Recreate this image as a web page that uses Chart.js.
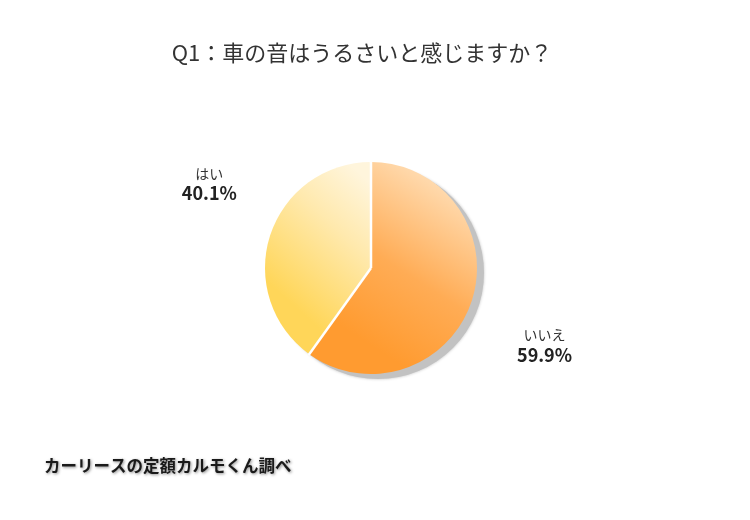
<!DOCTYPE html>
<html lang="ja">
<head>
<meta charset="utf-8">
<script src="https://cdn.jsdelivr.net/npm/chart.js@4"></script>
<style>
    html, body { margin: 0; padding: 0; background: #fff; }
    #wrap { width: 750px; height: 520px; }
</style>
</head>
<body>
<div id="wrap"><canvas id="pieChart" width="750" height="520"></canvas></div>
<script>
// Chart data
const categories = ['いいえ', 'はい'];
const percentValues = [59.9, 40.1];
const percentLabels = ['59.9%', '40.1%'];
const chartTitle = 'Q1：車の音はうるさいと感じますか？';
const sourceNote = 'カーリースの定額カルモくん調べ';

const FONT = '"Noto Sans CJK JP", "Noto Sans", sans-serif';

// label placement tweaks (angle shift in rad, distance as radius factor)
const labelShift = [0.105, 0.17];
const labelDist = [1.79, 1.72];

// Gradient per slice
function sliceGradient(context) {
    const chart = context.chart;
    const area = chart.chartArea;
    if (!area) return '#ffa040';
    const ctx = chart.ctx;
    const cx = (area.left + area.right) / 2;
    const cy = (area.top + area.bottom) / 2;
    const r = Math.min(area.width, area.height) / 2;
    let g;
    if (context.dataIndex === 0) {
        g = ctx.createLinearGradient(cx + r * 0.7, cy - r * 0.8, cx - r * 0.2, cy + r * 0.6);
        g.addColorStop(0, '#ffdcb2');
        g.addColorStop(0.55, '#ffac55');
        g.addColorStop(1, '#ff9b30');
    } else {
        g = ctx.createLinearGradient(cx - r * 0.9, cy + r * 0.2, cx, cy - r * 0.8);
        g.addColorStop(0, '#ffd659');
        g.addColorStop(0.6, '#ffe9ad');
        g.addColorStop(1, '#fff5dc');
    }
    return g;
}

// Drop shadow behind the pie
const shadowPlugin = {
    id: 'pieShadow',
    beforeDatasetsDraw(chart) {
        const arc = chart.getDatasetMeta(0).data[0];
        if (!arc) return;
        const ctx = chart.ctx;
        ctx.save();
        ctx.shadowColor = 'rgba(0,0,0,0.25)';
        ctx.shadowBlur = 3;
        ctx.fillStyle = '#c2c2c2';
        ctx.beginPath();
        ctx.arc(arc.x + 7, arc.y + 5, arc.outerRadius, 0, Math.PI * 2);
        ctx.fill();
        ctx.restore();
    }
};

// White separators between slices
const separatorPlugin = {
    id: 'separators',
    afterDatasetsDraw(chart) {
        const ctx = chart.ctx;
        ctx.save();
        ctx.strokeStyle = '#ffffff';
        ctx.lineWidth = 2.5;
        chart.getDatasetMeta(0).data.forEach(arc => {
            ctx.beginPath();
            ctx.moveTo(arc.x, arc.y);
            ctx.lineTo(arc.x + Math.cos(arc.startAngle) * (arc.outerRadius + 1),
                       arc.y + Math.sin(arc.startAngle) * (arc.outerRadius + 1));
            ctx.stroke();
        });
        ctx.restore();
    }
};

// Title, outside labels and source note
const labelPlugin = {
    id: 'outsideLabels',
    afterDraw(chart) {
        const ctx = chart.ctx;
        ctx.save();
        ctx.textAlign = 'center';
        ctx.textBaseline = 'middle';

        ctx.fillStyle = '#333333';
        ctx.font = '22px ' + FONT;
        ctx.fillText(chartTitle, 362, 53);

        chart.getDatasetMeta(0).data.forEach((arc, i) => {
            const mid = (arc.startAngle + arc.endAngle) / 2 + labelShift[i];
            const dist = arc.outerRadius * labelDist[i];
            const x = arc.x + Math.cos(mid) * dist;
            const y = arc.y + Math.sin(mid) * dist;
            ctx.fillStyle = '#333333';
            ctx.font = '14px ' + FONT;
            ctx.fillText(categories[i], x, y - 10);
            ctx.fillStyle = '#222222';
            ctx.font = 'bold 18px ' + FONT;
            ctx.fillText(percentLabels[i], x, y + 10);
        });

        // source note
        ctx.textAlign = 'left';
        ctx.font = 'bold 16.5px ' + FONT;
        ctx.shadowColor = 'rgba(0,0,0,0.45)';
        ctx.shadowBlur = 3;
        ctx.shadowOffsetX = 1;
        ctx.shadowOffsetY = 1;
        ctx.fillStyle = '#1a1a1a';
        ctx.fillText(sourceNote, 44, 466);
        ctx.restore();
    }
};

const ctx = document.getElementById('pieChart').getContext('2d');
const pieChart = new Chart(ctx, {
    type: 'pie',
    data: {
        labels: categories,
        datasets: [{
            data: percentValues,
            backgroundColor: sliceGradient,
            borderWidth: 0
        }]
    },
    options: {
        responsive: false,
        animation: false,
        layout: {
            padding: { top: 162, bottom: 146, left: 200, right: 208 }
        },
        plugins: {
            legend: { display: false },
            tooltip: { enabled: false },
            title: { display: false }
        }
    },
    plugins: [shadowPlugin, separatorPlugin, labelPlugin]
});
</script>
</body>
</html>
